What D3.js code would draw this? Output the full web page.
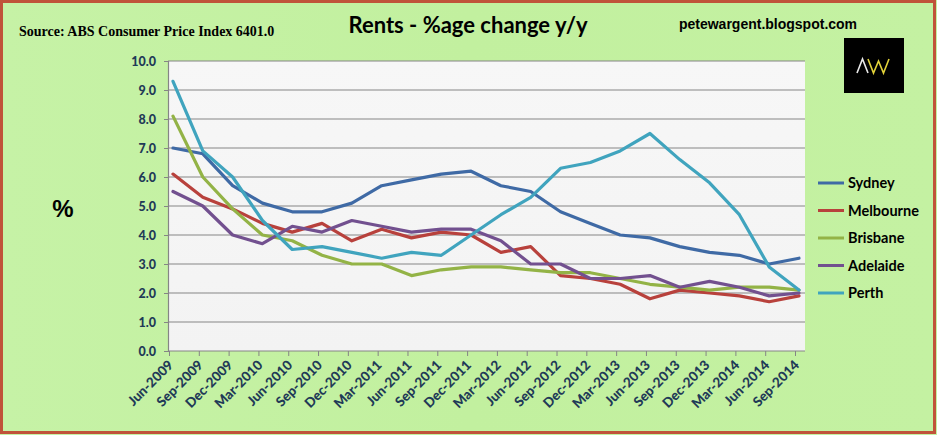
<!DOCTYPE html>
<html>
<head>
<meta charset="utf-8">
<script src="https://cdn.jsdelivr.net/npm/d3@7"></script>
<style>
  body { margin: 0; padding: 0; background: #fff; }
  svg { display: block; }
</style>
</head>
<body>
<div id="chart"></div>
<script>
// quarters on the x axis
const quarters = ["Jun-2009", "Sep-2009", "Dec-2009", "Mar-2010", "Jun-2010", "Sep-2010",
  "Dec-2010", "Mar-2011", "Jun-2011", "Sep-2011", "Dec-2011", "Mar-2012", "Jun-2012",
  "Sep-2012", "Dec-2012", "Mar-2013", "Jun-2013", "Sep-2013", "Dec-2013", "Mar-2014",
  "Jun-2014", "Sep-2014"];

// rents % change y/y
const sydney    = [7.0, 6.8, 5.7, 5.1, 4.8, 4.8, 5.1, 5.7, 5.9, 6.1, 6.2, 5.7, 5.5, 4.8, 4.4, 4.0, 3.9, 3.6, 3.4, 3.3, 3.0, 3.2];
const melbourne = [6.1, 5.3, 4.9, 4.4, 4.1, 4.4, 3.8, 4.2, 3.9, 4.1, 4.0, 3.4, 3.6, 2.6, 2.5, 2.3, 1.8, 2.1, 2.0, 1.9, 1.7, 1.9];
const brisbane  = [8.1, 6.0, 4.9, 4.0, 3.8, 3.3, 3.0, 3.0, 2.6, 2.8, 2.9, 2.9, 2.8, 2.7, 2.7, 2.5, 2.3, 2.2, 2.1, 2.2, 2.2, 2.1];
const adelaide  = [5.5, 5.0, 4.0, 3.7, 4.3, 4.1, 4.5, 4.3, 4.1, 4.2, 4.2, 3.8, 3.0, 3.0, 2.5, 2.5, 2.6, 2.2, 2.4, 2.2, 1.9, 2.0];
const perth     = [9.3, 6.9, 6.0, 4.5, 3.5, 3.6, 3.4, 3.2, 3.4, 3.3, 4.0, 4.7, 5.3, 6.3, 6.5, 6.9, 7.5, 6.6, 5.8, 4.7, 2.9, 2.1];

const seriesNames  = ["Sydney", "Melbourne", "Brisbane", "Adelaide", "Perth"];
const seriesColors = ["#3F6AA5", "#B8413C", "#93B346", "#72508F", "#40A4BE"];
const yTicks = [0, 1, 2, 3, 4, 5, 6, 7, 8, 9, 10];

const series = [sydney, melbourne, brisbane, adelaide, perth].map((vals, i) => ({
    name: seriesNames[i],
    color: seriesColors[i],
    values: vals
}));

const W = 937, H = 435;
const plot = { left: 168, right: 805, top: 61, bottom: 351 };
const axisColor = "#1F3A57";

const svg = d3.select("#chart").append("svg")
    .attr("width", W)
    .attr("height", H);

const defs = svg.append("defs");

// green page background
const bg = defs.append("linearGradient")
    .attr("id", "bg")
    .attr("x1", "0").attr("y1", "0").attr("x2", "1").attr("y2", "0");
bg.append("stop").attr("offset", "0").attr("stop-color", "#c6f2a6");
bg.append("stop").attr("offset", "0.5").attr("stop-color", "#c2f09f");
bg.append("stop").attr("offset", "1").attr("stop-color", "#c4f1a2");

// plot area background
const pbg = defs.append("linearGradient")
    .attr("id", "pbg")
    .attr("x1", "0").attr("y1", "0").attr("x2", "0").attr("y2", "1");
pbg.append("stop").attr("offset", "0").attr("stop-color", "#f7f7f7");
pbg.append("stop").attr("offset", "1").attr("stop-color", "#f3f3f3");

svg.append("rect")
    .attr("x", 0).attr("y", 0)
    .attr("width", W).attr("height", H)
    .style("fill", "url(#bg)");

// outer border
svg.append("rect")
    .attr("x", 1.5).attr("y", 1.5)
    .attr("width", W - 4).attr("height", H - 4)
    .style("fill", "none")
    .style("stroke", "#c0533a")
    .style("stroke-width", 3);

// scales
const x = d3.scalePoint()
    .domain(quarters)
    .range([173, 799]);

const y = d3.scaleLinear()
    .domain([0, 10])
    .range([plot.bottom, plot.top]);

svg.append("rect")
    .attr("x", plot.left).attr("y", plot.top)
    .attr("width", plot.right - plot.left)
    .attr("height", plot.bottom - plot.top)
    .style("fill", "url(#pbg)");

// gridlines
svg.append("g")
    .selectAll("line")
    .data(yTicks.filter(d => d > 0))
    .enter()
    .append("line")
    .attr("x1", plot.left).attr("x2", plot.right)
    .attr("y1", d => y(d)).attr("y2", d => y(d))
    .style("stroke", "#858585")
    .style("stroke-width", 1.2);

// y axis
const yAxis = svg.append("g")
    .attr("transform", `translate(${plot.left},0)`)
    .call(d3.axisLeft(y).tickValues(yTicks).tickSize(4).tickPadding(8).tickFormat(d3.format(".1f")));
yAxis.select(".domain").style("stroke", "#858585").style("stroke-width", 1.2);
yAxis.selectAll(".tick line").style("stroke", "#858585");
yAxis.selectAll("text")
    .style("font-family", "Lato, 'Open Sans', sans-serif")
    .style("font-weight", "900")
    .style("font-size", "12.5px")
    .style("fill", axisColor);

// x axis (ticks sit a little left of each point, as in the original)
const xAxisG = svg.append("g")
    .attr("transform", `translate(-4,${plot.bottom})`)
    .call(d3.axisBottom(x).tickSize(5).tickFormat(""));
xAxisG.select(".domain")
    .attr("d", `M${plot.left + 4},0H${plot.right + 4}`)
    .style("stroke", "#858585").style("stroke-width", 1.2);
xAxisG.selectAll(".tick line").style("stroke", "#858585");

svg.append("g")
    .selectAll("text")
    .data(quarters)
    .enter()
    .append("text")
    .attr("transform", d => `translate(${x(d) + 1},${plot.bottom + 15}) rotate(-45)`)
    .attr("text-anchor", "end")
    .style("font-family", "Lato, 'Open Sans', sans-serif")
    .style("font-weight", "900")
    .style("font-size", "13.5px")
    .style("fill", axisColor)
    .text(d => d);

// lines
const line = d3.line()
    .x((d, i) => x(quarters[i]))
    .y(d => y(d));

svg.append("g")
    .selectAll("path")
    .data(series)
    .enter()
    .append("path")
    .attr("d", d => line(d.values))
    .style("fill", "none")
    .style("stroke", d => d.color)
    .style("stroke-width", 3.2)
    .style("stroke-linejoin", "round")
    .style("stroke-linecap", "round");

// legend
const legend = svg.append("g")
    .selectAll("g")
    .data(series)
    .enter()
    .append("g")
    .attr("transform", (d, i) => `translate(818,${183 + i * 27.5})`);

legend.append("line")
    .attr("x1", 0).attr("x2", 26)
    .style("stroke", d => d.color)
    .style("stroke-width", 3);

legend.append("text")
    .attr("x", 30).attr("y", 5)
    .style("font-family", "Lato, 'Open Sans', sans-serif")
    .style("font-weight", "bold")
    .style("font-size", "14.5px")
    .style("fill", "#000")
    .text(d => d.name);

// titles
svg.append("text")
    .attr("x", 19).attr("y", 36)
    .style("font-family", "'Liberation Serif', 'DejaVu Serif', serif")
    .style("font-weight", "bold")
    .style("font-size", "14px")
    .text("Source: ABS Consumer Price Index 6401.0");

svg.append("text")
    .attr("x", 468).attr("y", 33)
    .attr("text-anchor", "middle")
    .style("font-family", "Lato, 'Open Sans', sans-serif")
    .style("font-weight", "bold")
    .style("font-size", "22px")
    .text("Rents - %age change y/y");

svg.append("text")
    .attr("x", 768).attr("y", 29)
    .attr("text-anchor", "middle")
    .style("font-family", "'Liberation Sans', Arial, sans-serif")
    .style("font-weight", "bold")
    .style("font-size", "14px")
    .text("petewargent.blogspot.com");

svg.append("text")
    .attr("x", 63).attr("y", 217)
    .attr("text-anchor", "middle")
    .style("font-family", "'Liberation Sans', Arial, sans-serif")
    .style("font-weight", "bold")
    .style("font-size", "24px")
    .text("%");

// AW logo
const logo = svg.append("g").attr("transform", "translate(844,38)");
logo.append("rect")
    .attr("width", 60).attr("height", 55)
    .style("fill", "#000");
logo.append("polyline")
    .attr("points", "13,35 18.5,21 24,35")
    .style("fill", "none")
    .style("stroke", "#e8e8e8")
    .style("stroke-width", 1.6);
logo.append("polyline")
    .attr("points", "24,21 29.5,35 34.5,23 39.5,35 45,21")
    .style("fill", "none")
    .style("stroke", "#e2d23a")
    .style("stroke-width", 1.6);
</script>
</body>
</html>
